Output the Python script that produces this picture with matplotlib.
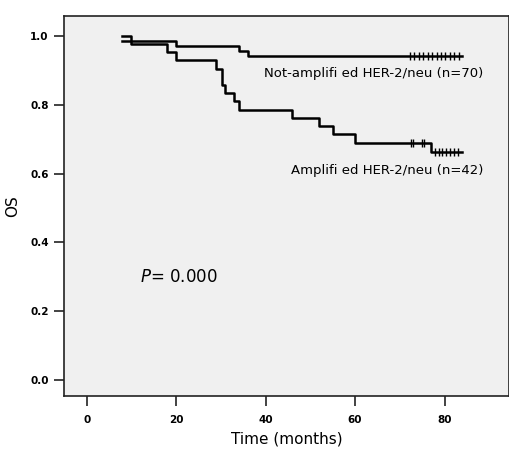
import matplotlib
matplotlib.use("Agg")
import matplotlib.pyplot as plt

# Not-amplified HER-2/neu (n=70)
na_times = [8, 20, 34, 36, 83.8]
na_surv = [0.986, 0.971, 0.957, 0.943, 0.943]
na_cens = [72.2, 73.2, 74.2, 75.2, 76.2, 77.2, 78.2, 79.2, 80.2, 81.2, 82.2, 83.2]

# Amplified HER-2/neu (n=42)
am_times = [8, 10, 18, 20, 29, 30.2, 31, 33, 34, 46, 52, 55, 60, 77, 83.8]
am_surv = [1.0, 0.976, 0.952, 0.929, 0.905, 0.857, 0.833, 0.810, 0.786,
           0.762, 0.738, 0.714, 0.690, 0.662, 0.662]
am_cens1 = [72.5, 73.0, 74.9, 75.4]
am_cens1_s = 0.690
am_cens2 = [77.9, 78.7, 79.5, 80.4, 81.3, 82.2, 83.1]
am_cens2_s = 0.662

xticks = [0, 20, 40, 60, 80]
yticks = [0.0, 0.2, 0.4, 0.6, 0.8, 1.0]

W, H = 509, 450
fig = plt.figure(figsize=(W / 100, H / 100), dpi=100)
ax = fig.add_axes([64 / W, 1 - 395.7 / H, (509 - 64) / W, (395.7 - 16) / H])
ax.set_facecolor("#f0f0f0")

ax.step(na_times, na_surv, where="post", color="black", lw=1.8)
ax.step(am_times, am_surv, where="post", color="black", lw=1.8)
ax.plot(na_cens, [na_surv[-1]] * len(na_cens), ls="none", marker="|",
        ms=6, mew=1.0, color="black")
ax.plot(am_cens1, [am_cens1_s] * len(am_cens1), ls="none", marker="|",
        ms=6, mew=1.0, color="black")
ax.plot(am_cens2, [am_cens2_s] * len(am_cens2), ls="none", marker="|",
        ms=6, mew=1.0, color="black")

ax.set_xlim(-5.07, 94.4)
ax.set_ylim(-0.046, 1.058)
ax.set_xticks(xticks)
ax.set_xticklabels([str(v) for v in xticks], fontweight="bold", fontsize=7.5)
ax.set_yticks(yticks)
ax.set_yticklabels([f"{v:.1f}" for v in yticks], fontweight="bold", fontsize=7.5)
ax.tick_params(direction="out", length=7, width=1.2, color="#222222")
ax.tick_params(axis="x", pad=7)
ax.tick_params(axis="y", pad=4)
for s in ax.spines.values():
    s.set_linewidth(1.2)
    s.set_color("#222222")

ax.set_xlabel("Time (months)", fontsize=11)
ax.xaxis.set_label_coords(0.5, -0.095)
ax.set_ylabel("OS", fontsize=11)
ax.yaxis.set_label_coords(-0.099, 0.5)

ax.text(88.6, 0.89, "Not-amplifi ed HER-2/neu (n=70)", ha="right", va="center",
        fontsize=9.5)
ax.text(88.6, 0.61, "Amplifi ed HER-2/neu (n=42)", ha="right", va="center",
        fontsize=9.5)
ax.text(11.9, 0.30, "$\\mathit{P}$= 0.000", ha="left", va="center", fontsize=12)

fig.savefig("out.png", dpi=100)
